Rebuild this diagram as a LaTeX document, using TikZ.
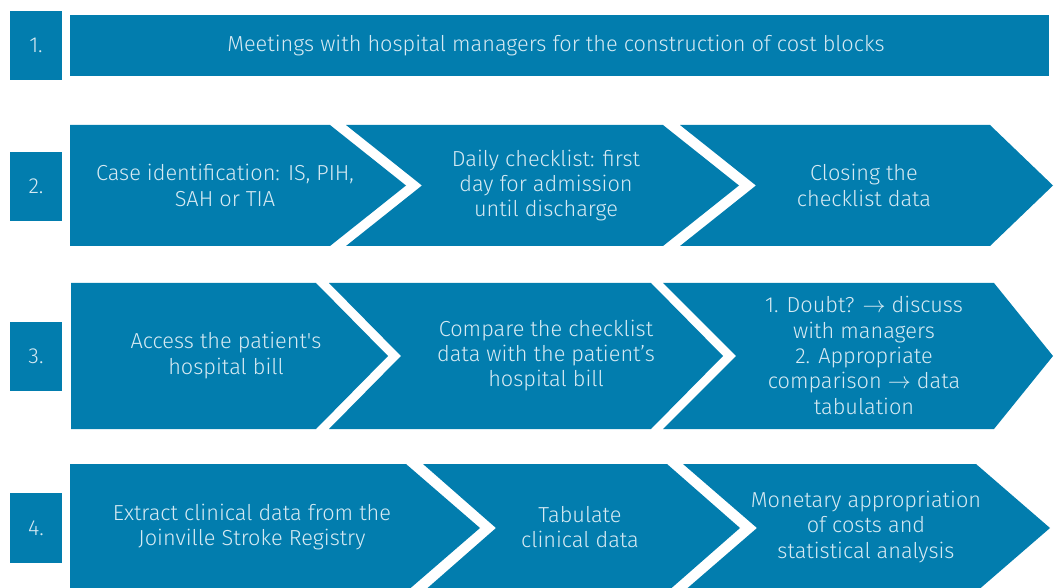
\documentclass[tikz,border=0pt]{standalone}
\usepackage{fontspec}
\setmainfont{Fira Sans Light}
\newfontfamily\plainq{Fira Sans Light}
\definecolor{stepblue}{RGB}{2,125,174}
\definecolor{steptext}{RGB}{214,234,243}
\tikzset{
  x=0.75pt, y=-0.75pt,
  numbox/.style={fill=stepblue},
  chev/.style={fill=stepblue},
  lbl/.style={text=steptext, align=center, font=\fontsize{16.3}{19}\selectfont, inner sep=0pt},
}
\begin{document}
\begin{tikzpicture}
\useasboundingbox (0,0) rectangle (1054,588);
\clip (0,0) rectangle (1054,588);
% number boxes
\fill[numbox] (10,11) rectangle (62,80);
\fill[numbox] (10,152) rectangle (62,221);
\fill[numbox] (10,322) rectangle (62,391);
\fill[numbox] (10,493) rectangle (62,563);
\node[lbl] (n1) at (36,45.5) {1.};
\node[lbl] (n2) at (36,186.5) {2.};
\node[lbl] (n3) at (36,356.5) {3.};
\node[lbl] (n4) at (36,528) {4.};
% row 1
\fill[chev] (70,15) rectangle (1049,76);
\node[lbl] (r1) at (556,45.5) {Meetings with hospital managers for the construction of cost blocks};
% row 2
\fill[chev] (70,125) -- (330,125) -- (406,185.5) -- (330,246) -- (70,246) -- cycle;
\fill[chev] (346,125) -- (663,125) -- (739,185.5) -- (663,246) -- (346,246) -- (422,185.5) -- cycle;
\fill[chev] (680,125) -- (990,125) -- (1053,185.5) -- (990,246) -- (680,246) -- (756,185.5) -- cycle;
\node[lbl] (r2a) at (225,185.5) {Case identification: IS, PIH,\\SAH or TIA};
\node[lbl] (r2b) at (546,185.5) {Daily checklist: first\\day for admission\\until discharge};
\node[lbl] (r2c) at (864,185.5) {Closing the\\checklist data};
% row 3
\fill[chev] (71,283) -- (316,283) -- (388,356) -- (316,429) -- (71,429) -- cycle;
\fill[chev] (329,283) -- (651,283) -- (723,356) -- (651,429) -- (329,429) -- (401,356) -- cycle;
\fill[chev] (663,283) -- (994,283) -- (1053,356) -- (994,429) -- (663,429) -- (736,356) -- cycle;
\node[lbl] (r3a) at (226,355.5) {Access the patient{\plainq'}s\\hospital bill};
\node[lbl] (r3b) at (546,355.5) {Compare the checklist\\data with the patient’s\\hospital bill};
\node[lbl] (r3c) at (864,355.5) {1. Doubt? $\rightarrow$ discuss\\with managers\\2. Appropriate\\comparison $\rightarrow$ data\\tabulation};
% row 4
\fill[chev] (70,464) -- (406,464) -- (480,528) -- (406,592) -- (70,592) -- cycle;
\fill[chev] (423,464) -- (667,464) -- (740,528) -- (667,592) -- (423,592) -- (496,528) -- cycle;
\fill[chev] (683,464) -- (976,464) -- (1050,528) -- (976,592) -- (683,592) -- (757,528) -- cycle;
\node[lbl] (r4a) at (252,527) {Extract clinical data from the\\Joinville Stroke Registry};
\node[lbl] (r4b) at (580,527) {Tabulate\\clinical data};
\node[lbl] (r4c) at (866,527) {Monetary appropriation\\of costs and\\statistical analysis};
\end{tikzpicture}
\end{document}
